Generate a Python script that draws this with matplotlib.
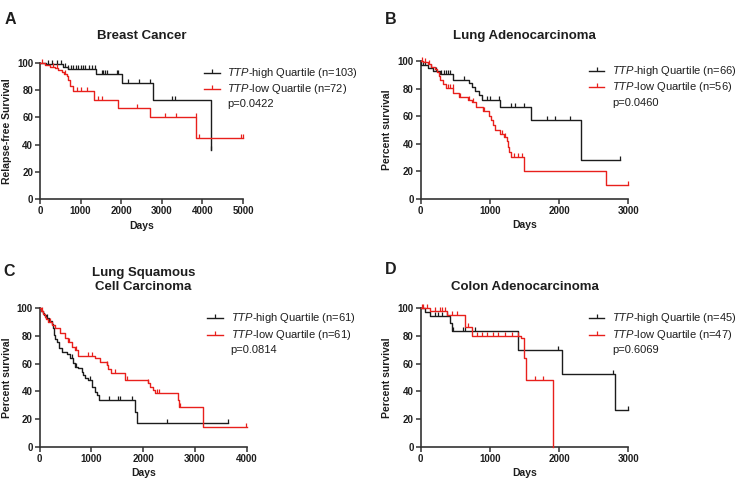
"""
Kaplan-Meier survival curves: TTP-high vs TTP-low quartile in four cohorts.
"""

import numpy as np
import matplotlib
matplotlib.use("Agg")
import matplotlib.pyplot as plt

plt.rcParams["font.family"] = ["Liberation Sans", "DejaVu Sans"]
plt.rcParams["mathtext.fontset"] = "custom"
plt.rcParams["mathtext.rm"] = "Liberation Sans"
plt.rcParams["mathtext.it"] = "Liberation Sans:italic"
plt.rcParams["mathtext.bf"] = "Liberation Sans:bold"

# ---------------------------------------------------------------- data
# each curve: event times, survival (%) after each event, last follow-up, censor times

# A - Breast cancer
A_high_t = [0, 150, 330, 560, 700, 1390, 2030, 2790, 4215]
A_high_s = [100, 99.4, 98.8, 97, 95.4, 92, 85, 72.7, 36]
A_high_end = 4215
A_high_cens = [200, 300, 420, 520, 620, 700, 760, 820, 880, 940, 1000, 1060, 1120, 1200,
               1280, 1350, 1520, 1560, 1600, 1640, 1890, 1930, 2170, 2440, 2705, 3260,
               3335, 4215]
A_low_t = [0, 120, 250, 370, 450, 530, 600, 660, 700, 740, 820, 1340, 1920, 2700, 3850]
A_low_s = [100, 98.6, 97.2, 95.8, 94.4, 93, 91.5, 90, 87, 83, 79, 73, 67, 60, 45]
A_low_end = 5000
A_low_cens = [60, 320, 420, 620, 900, 1020, 1150, 1430, 1530, 2380, 3075, 3360, 3835,
              3920, 4950, 4995]

# B - Lung adenocarcinoma
B_high_t = [0, 10, 110, 180, 280, 460, 700, 735, 790, 840, 890, 1150, 1600, 2315]
B_high_s = [100, 97, 95, 93, 90.5, 86.5, 84, 81, 78, 75, 71.7, 66.5, 57.5, 28.5]
B_high_end = 2880
B_high_cens = [30, 60, 150, 220, 300, 330, 360, 400, 430, 620, 960, 1000, 1130, 1310,
               1360, 1500, 1820, 1940, 2160, 2880]
B_low_t = [0, 40, 100, 150, 200, 240, 260, 280, 320, 370, 470, 560, 680, 740, 800, 900,
           980, 1010, 1050, 1080, 1150, 1200, 1240, 1260, 1280, 1300, 1490, 2680]
B_low_s = [100, 99, 97.5, 96, 94, 92, 89, 86, 83, 80.5, 77, 74, 72, 70, 67, 64, 60, 57,
           53.5, 50, 47, 45, 42, 38, 34, 30.5, 20.4, 10.2]
B_low_end = 3000
B_low_cens = [20, 60, 120, 400, 430, 460, 570, 700, 760, 920, 1180, 1220, 1350, 1400,
              1460, 3000]

# C - Lung squamous cell carcinoma
C_high_t = [0, 30, 60, 90, 130, 180, 230, 264, 280, 300, 328, 374, 425, 522, 586, 650,
            683, 747, 812, 844, 876, 940, 1005, 1069, 1101, 1147, 1845, 1875]
C_high_s = [100, 98, 96.5, 95, 93, 91, 89, 85.5, 81, 78, 75.9, 71, 68.7, 66.7, 63.9,
            60.2, 57.8, 56.6, 54.2, 51.8, 50, 48.2, 43.4, 39.8, 37.3, 33.7, 25.3, 16.9]
C_high_end = 3645
C_high_cens = [150, 620, 700, 980, 1340, 1505, 1550, 1780, 2455, 3645]
C_low_t = [0, 20, 60, 100, 130, 160, 232, 296, 393, 490, 554, 618, 683, 734, 1069, 1166,
           1295, 1327, 1378, 1650, 2090, 2130, 2196, 2229, 2680, 2700, 3150]
C_low_s = [100, 98, 96, 94, 92, 90, 88, 85.5, 81.9, 78.3, 75.4, 72.3, 69.9, 65.8, 63.9,
           61.4, 59, 56.1, 53, 48.2, 46, 43.4, 41, 38.6, 33.5, 28.9, 14.5]
C_low_end = 4000
C_low_cens = [40, 200, 560, 700, 930, 1020, 1300, 1450, 1680, 2100, 2270, 2310, 2720,
              3980]

# D - Colon adenocarcinoma
D_high_t = [0, 63, 135, 424, 448, 1411, 2037, 2807]
D_high_s = [100, 97.1, 94.7, 89.2, 83.6, 69.9, 52.3, 26.5]
D_high_end = 3000
D_high_cens = [207, 255, 303, 375, 472, 616, 640, 785, 1988, 2783, 3000]
D_low_t = [0, 135, 375, 640, 746, 1449, 1497, 1517, 1907]
D_low_s = [100, 98, 95.2, 86.7, 80.2, 78.3, 63.9, 48.2, 0]
D_low_end = 1907
D_low_cens = [14, 38, 87, 207, 279, 303, 351, 448, 520, 688, 809, 881, 953, 1050, 1122,
              1218, 1314, 1410, 1651, 1772]

letters = ["A", "B", "C", "D"]
titles = ["Breast Cancer", "Lung Adenocarcinoma", "Lung Squamous\nCell Carcinoma",
          "Colon Adenocarcinoma"]
ylabels = ["Relapse-free Survival", "Percent survival", "Percent survival",
           "Percent survival"]
x_max = [5000, 3000, 4000, 3000]
n_high = [103, 66, 61, 45]
n_low = [72, 56, 61, 47]
p_values = ["p=0.0422", "p=0.0460", "p=0.0814", "p=0.6069"]

BLACK = "#1c1c1c"
RED = "#e8201c"
TEXT = "#1e1e1e"


def draw_km(ax, t, s, end, cens, color):
    """Draw a step survival curve with upward censor ticks."""
    ts = np.append(np.asarray(t, float), end)
    ss = np.append(np.asarray(s, float), s[-1])
    ax.step(ts, ss, where="post", color=color, lw=1.0, clip_on=False, zorder=3)
    cens = np.asarray(cens, float)
    cy = ss[np.searchsorted(ts, cens, side="right") - 1]
    ax.plot(cens, cy, ls="none", marker=2, ms=3.2, mew=0.9, color=color,
            clip_on=False, zorder=3)


def legend_row(ax, y, color, label):
    ax.plot([0.81, 0.885], [y, y], transform=ax.transAxes, color=color, lw=1.0,
            clip_on=False)
    ax.plot([0.8475], [y], transform=ax.transAxes, marker=2, ms=3.2, mew=0.9,
            color=color, clip_on=False)
    ax.text(0.923, y, label, transform=ax.transAxes, va="center", ha="left",
            fontsize=8, color=TEXT)


curves = [
    ((A_high_t, A_high_s, A_high_end, A_high_cens), (A_low_t, A_low_s, A_low_end, A_low_cens)),
    ((B_high_t, B_high_s, B_high_end, B_high_cens), (B_low_t, B_low_s, B_low_end, B_low_cens)),
    ((C_high_t, C_high_s, C_high_end, C_high_cens), (C_low_t, C_low_s, C_low_end, C_low_cens)),
    ((D_high_t, D_high_s, D_high_end, D_high_cens), (D_low_t, D_low_s, D_low_end, D_low_cens)),
]

# axes rectangles in pixels: left, top, right, bottom
W, H = 749, 487
boxes = [(40, 62.7, 243, 199.3), (420.7, 61, 628.3, 199),
         (39.7, 308.3, 246.7, 446.7), (420.7, 308.3, 628.3, 446.7)]
title_px = [36, 36, 279.8, 287.3]
letter_px = [(10, 20), (391, 20), (9, 271), (391, 270)]
ylabel_px = [12, 392, 12, 392]

fig = plt.figure(figsize=(W / 100, H / 100), dpi=100)

for i in range(4):
    l, t, r, b = boxes[i]
    ax = fig.add_axes([l / W, 1 - b / H, (r - l) / W, (b - t) / H])
    high, low = curves[i]
    draw_km(ax, *high, BLACK)
    draw_km(ax, *low, RED)

    ax.set_xlim(0, x_max[i])
    ax.set_ylim(0, 100)
    ax.set_xticks(np.arange(0, x_max[i] + 1, 1000))
    ax.set_yticks(np.arange(0, 101, 20))
    for side in ("top", "right"):
        ax.spines[side].set_visible(False)
    for side in ("left", "bottom"):
        ax.spines[side].set_linewidth(1.2)
        ax.spines[side].set_color("#333333")
    ax.tick_params(direction="out", length=3.5, width=1.1, color="#333333",
                   labelsize=7, pad=1.5, labelcolor=TEXT)
    for lab in ax.get_xticklabels() + ax.get_yticklabels():
        lab.set_fontweight("bold")

    ax.set_xlabel("Days", fontsize=7.5, fontweight="bold", color=TEXT)
    ax.set_ylabel(ylabels[i], fontsize=7.5, fontweight="bold", color=TEXT)
    ax.xaxis.set_label_coords(0.5, -21.5 / (b - t))
    ax.yaxis.set_label_coords((ylabel_px[i] - l) / (r - l), 0.5)

    ax.text(0.5, 1 + (t - title_px[i]) / (b - t), titles[i], transform=ax.transAxes,
            ha="center", va="center", fontsize=9.5, fontweight="bold", color=TEXT,
            linespacing=1.25)
    fig.text(letter_px[i][0] / W, 1 - letter_px[i][1] / H, letters[i], ha="center",
             va="center", fontsize=11.5, fontweight="bold", color=TEXT)

    legend_row(ax, 0.928, BLACK, r"$\it{TTP}$-high Quartile (n=%d)" % n_high[i])
    legend_row(ax, 0.808, RED, r"$\it{TTP}$-low Quartile (n=%d)" % n_low[i])
    ax.text(0.923, 0.698, p_values[i], transform=ax.transAxes, va="center",
            ha="left", fontsize=8, color=TEXT)

fig.savefig("out.png", dpi=100)
